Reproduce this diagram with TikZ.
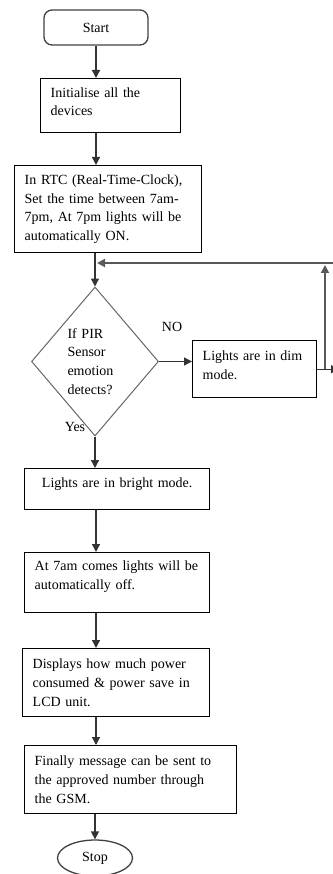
\documentclass[tikz,border=0pt]{standalone}
\usepackage{fontspec}
\setmainfont{Liberation Serif}
\usepackage{tikz}
\usetikzlibrary{arrows.meta}
\usetikzlibrary{shapes.geometric}

\begin{document}
\begin{tikzpicture}[x=1pt, y=-1pt,
    font=\fontsize{14}{18.7}\selectfont,
    box/.style={draw, line width=1.4pt, rectangle, anchor=north west,
        inner xsep=10pt, inner ysep=4pt, align=left},
    term/.style={draw=black!75, line width=1.3pt},
    arr/.style={draw=black!80, line width=1.4pt, -{Triangle[length=8pt,width=8pt]}},
    back/.style={draw=gray!70!black, line width=1.8pt, -{Triangle[length=8pt,width=8pt]}}]
        \useasboundingbox (0,0) rectangle (332,874);
        \coordinate (spine) at (96,0);

        \node[term, rounded corners=8pt, minimum width=104pt, minimum height=35pt] (start) at (96,27.5) {Start};
        \node[box, minimum width=140pt, minimum height=54pt, text width=120pt, text depth=27pt] (init) at (40,78) {Initialise all the\\devices};
        \node[box, minimum width=187pt, minimum height=87pt, text width=167pt] (rtc) at (14,165)
            {In RTC (Real-Time-Clock),\\Set the time between 7am-\\7pm, At 7pm lights will be\\automatically ON.};
        \node[diamond, draw=gray!80!black, line width=1pt, minimum width=127pt, minimum height=149pt,
            inner sep=0pt, text width=55pt, align=left] (pir) at (95,361.5) {If PIR\\Sensor\\emotion\\detects?};
        \node (no) at (172,327) {NO};
        \node (yes) at (75,427) {Yes};
        \node[box, minimum width=124pt, minimum height=57pt, text width=104pt, text depth=26.5pt] (dim) at (192,340) {Lights are in dim\\mode.};
        \node[box, align=center, minimum width=185pt, minimum height=41pt, text width=165pt, text depth=12.5pt] (bright) at (24,468) {Lights are in bright mode.};
        \node[box, minimum width=185pt, minimum height=60pt, text width=165pt, text depth=33.5pt] (off) at (24,552)
            {At 7am comes lights will be\\automatically off.};
        \node[box, minimum width=187pt, minimum height=68pt, text width=167pt] (lcd) at (22,648)
            {Displays how much power\\consumed \& power save in\\LCD unit.};
        \node[box, minimum width=212pt, minimum height=68pt, text width=192pt] (gsm) at (24,745)
            {Finally message can be sent to\\the approved number through\\the GSM.};
        \node[term, ellipse, minimum width=75pt, minimum height=36pt] (stop) at (95,858) {Stop};

        % main flow
        \draw[arr] (start.south -| spine) -- (init.north -| spine);
        \draw[arr] (init.south -| spine) -- (rtc.north -| spine);
        \draw[arr] (rtc.south -| pir) -- (pir.north);
        \draw[arr] (pir.east) -- (pir.east -| dim.west);
        \draw[arr] (pir.south) -- (bright.north -| pir);
        \draw[arr] (bright.south -| spine) -- (off.north -| spine);
        \draw[arr] (off.south -| spine) -- (lcd.north -| spine);
        \draw[arr] (lcd.south -| spine) -- (gsm.north -| spine);
        \draw[arr] (gsm.south -| stop) -- (stop.north);

        % loop back
        \coordinate (out) at (339,363);
        \coordinate (up) at (325,265);
        \coordinate (far) at (340,263);
        \coordinate (join) at (97,263);
        \draw[arr] (dim.east) -- (dim.east -| out);
        \draw[back] (dim.east -| up) -- (up);
        \draw[back] (far) -- (join);
\end{tikzpicture}
\end{document}
